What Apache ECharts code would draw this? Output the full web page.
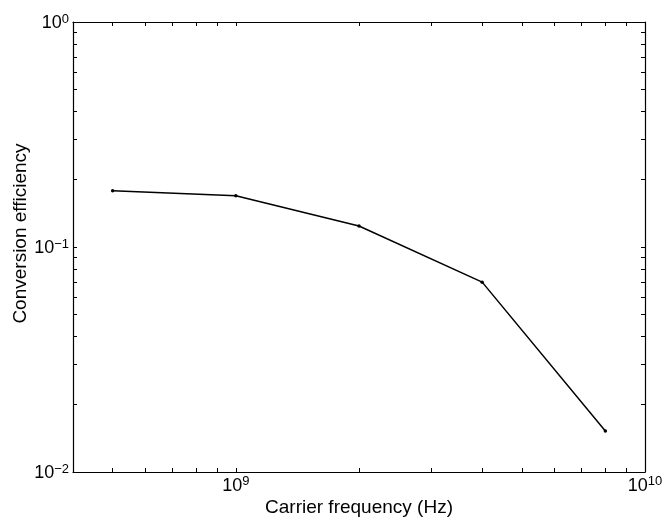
<!DOCTYPE html>
<html>
<head>
<meta charset="utf-8">
<script src="https://cdn.jsdelivr.net/npm/echarts@6/dist/echarts.min.js"></script>
<style>
  html, body { margin: 0; padding: 0; background: #fff; }
  #chart { width: 670px; height: 517px; }
</style>
</head>
<body>
<div id="chart"></div>
<script>
// carrier frequency (Hz) and conversion efficiency
var frequencies = [5e8, 1e9, 2e9, 4e9, 8e9];
var efficiency = [0.178, 0.169, 0.124, 0.0698, 0.0152];

// decade labels and minor ticks
var xLabelValues = [1e9, 1e10];
var xTickValues = [5e8, 6e8, 7e8, 8e8, 9e8, 1e9, 2e9, 3e9, 4e9, 5e9, 6e9, 7e9, 8e9, 9e9];
var yLabelValues = [0.01, 0.1, 1];
var yTickValues = [0.02, 0.03, 0.04, 0.05, 0.06, 0.07, 0.08, 0.09, 0.1,
                   0.2, 0.3, 0.4, 0.5, 0.6, 0.7, 0.8, 0.9];

var font = "Helvetica, Arial, 'Liberation Sans', sans-serif";

function powLabel(v) {
  var e = Math.round(Math.log10(v));
  return "{b|10}{sup|" + String(e).replace("-", "\u2212") + "}";
}

var labelRich = {
  b: { fontSize: 18, fontFamily: font, color: "#000", verticalAlign: "top", lineHeight: 19, padding: [2, 0, 0, 0] },
  sup: { fontSize: 13, fontFamily: font, color: "#000", verticalAlign: "top", lineHeight: 13 }
};

var chart = echarts.init(document.getElementById("chart"));

var tick = { show: true, inside: true, length: 4, lineStyle: { color: "#000", width: 1 } };
var line = { show: true, onZero: false, lineStyle: { color: "#000", width: 1.2 } };

var option = {
  animation: false,
  backgroundColor: "#fff",
  grid: { left: 73, right: 25, top: 22, bottom: 45, containLabel: false, outerBoundsMode: "none" },
  xAxis: [
    {
      type: "log", logBase: 10, min: 4e8, max: 1e10, position: "bottom",
      name: "Carrier frequency (Hz)", nameLocation: "middle", nameGap: 26, nameMoveOverlap: false,
      nameTextStyle: { fontSize: 19, fontFamily: font, color: "#000" },
      axisLine: line,
      axisTick: Object.assign({ customValues: xTickValues }, tick),
      axisLabel: {
        customValues: xLabelValues, formatter: powLabel, margin: 3,
        fontSize: 18, fontFamily: font, color: "#000", rich: labelRich
      },
      splitLine: { show: false }
    },
    {
      type: "log", logBase: 10, min: 4e8, max: 1e10, position: "top",
      axisLine: line,
      axisTick: Object.assign({ customValues: xTickValues }, tick),
      axisLabel: { show: false },
      splitLine: { show: false }
    }
  ],
  yAxis: [
    {
      type: "log", logBase: 10, min: 0.01, max: 1, position: "left",
      name: "Conversion efficiency", nameLocation: "middle", nameGap: 43, nameMoveOverlap: false,
      nameTextStyle: { fontSize: 19, fontFamily: font, color: "#000", padding: [0, 0, 0, 27] },
      axisLine: line,
      axisTick: Object.assign({ customValues: yTickValues }, tick),
      axisLabel: {
        customValues: yLabelValues, formatter: powLabel, margin: 4,
        fontSize: 18, fontFamily: font, color: "#000", rich: labelRich
      },
      splitLine: { show: false }
    },
    {
      type: "log", logBase: 10, min: 0.01, max: 1, position: "right",
      axisLine: line,
      axisTick: Object.assign({ customValues: yTickValues }, tick),
      axisLabel: { show: false },
      splitLine: { show: false }
    }
  ],
  series: [
    {
      type: "line",
      data: frequencies.map(function (f, i) { return [f, efficiency[i]]; }),
      symbol: "circle",
      symbolSize: 3.5,
      itemStyle: { color: "#000" },
      lineStyle: { color: "#000", width: 1.5 }
    }
  ]
};

chart.setOption(option);
</script>
</body>
</html>
